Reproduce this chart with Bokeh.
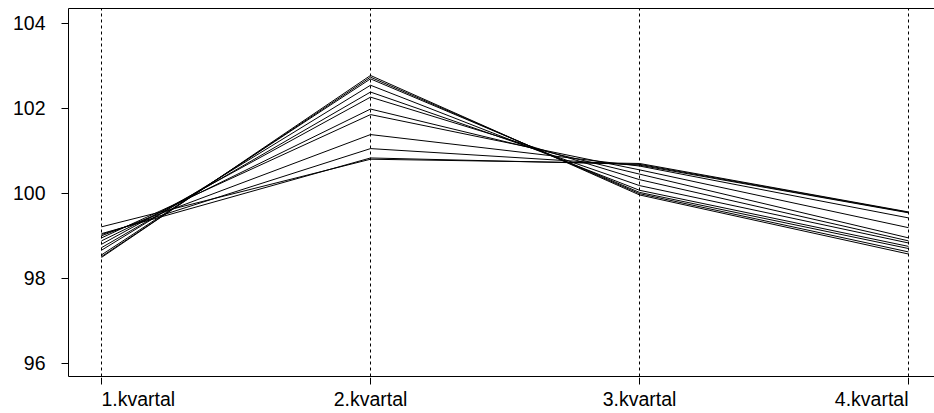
from bokeh.plotting import figure
from bokeh.models import FixedTicker, LinearAxis, ColumnDataSource, Range1d
from bokeh.layouts import column
from bokeh.core.properties import value
from bokeh.embed import file_html
from bokeh.resources import INLINE

quarters = ["1.kvartal", "2.kvartal", "3.kvartal", "4.kvartal"]
y_ticks = [96, 98, 100, 102, 104]

# seasonal index per series (12 series), one list per quarter
q1_values = [99.21, 99.05, 99.03, 99.00, 98.95, 98.88, 98.80, 98.72, 98.66, 98.55, 98.51, 98.49]
q2_values = [100.80, 100.83, 101.05, 101.38, 101.85, 101.98, 102.26, 102.38, 102.54, 102.69, 102.73, 102.77]
q3_values = [100.70, 100.68, 100.66, 100.64, 100.55, 100.45, 100.32, 100.18, 100.07, 100.02, 99.99, 99.96]
q4_values = [99.56, 99.55, 99.54, 99.42, 99.19, 98.95, 98.88, 98.83, 98.75, 98.70, 98.62, 98.57]

FONT = "Liberation Sans"
FS = "19.5px"
xs = list(range(1, len(quarters) + 1))


def bare_axis():
    a = LinearAxis(ticker=FixedTicker(ticks=[]))
    a.major_tick_out = 0
    a.major_tick_in = 0
    a.minor_tick_out = 0
    a.minor_tick_in = 0
    a.major_label_standoff = 0
    a.axis_line_color = "black"
    return a


y_lo, y_hi = 95.69, 104.345
p = figure(width=934, height=377, x_range=Range1d(0.8773, 4.0966), y_range=Range1d(y_lo, y_hi),
           output_backend="svg", toolbar_location=None,
           min_border_left=68, min_border_right=0, min_border_top=8, min_border_bottom=1,
           x_axis_location=None, y_axis_location=None)
p.outline_line_color = None
p.background_fill_color = "white"
p.border_fill_color = "white"

for i in range(len(q1_values)):
    ys = [q1_values[i], q2_values[i], q3_values[i], q4_values[i]]
    p.line(xs, ys, line_color="black", line_width=1)

# left axis
ya = LinearAxis(ticker=FixedTicker(ticks=y_ticks), bounds=(y_lo, y_hi))
ya.major_tick_out = 7
ya.major_tick_in = 0
ya.minor_tick_out = 0
ya.minor_tick_in = 0
ya.major_label_standoff = 16
ya.major_label_text_font = FONT
ya.major_label_text_font_size = FS
ya.major_label_text_color = "black"
ya.axis_line_color = "black"
ya.axis_line_width = 1
ya.major_tick_line_color = "black"
p.add_layout(ya, "left")

p.add_layout(bare_axis(), "below")
p.add_layout(bare_axis(), "above")

p.xgrid.ticker = FixedTicker(ticks=xs)
p.xgrid.grid_line_color = "black"
p.xgrid.grid_line_dash = "3 3"
p.xgrid.grid_line_width = 1
p.ygrid.visible = False

# strip below the frame: tick marks and category labels
strip_h = 36
p2 = figure(width=934, height=strip_h, x_range=p.x_range, y_range=Range1d(0, strip_h),
            output_backend="svg", toolbar_location=None,
            min_border_left=68, min_border_right=0, min_border_top=0, min_border_bottom=0,
            x_axis_location=None, y_axis_location=None)
p2.outline_line_color = None
p2.grid.visible = False
p2.background_fill_color = "white"
p2.border_fill_color = "white"

tick_len = 7
label_gap = 10
aligns = ["left"] + ["center"] * (len(quarters) - 2) + ["right"]
src = ColumnDataSource(dict(x=xs, y0=[strip_h] * len(xs), y1=[strip_h - tick_len] * len(xs),
                            ly=[strip_h - label_gap] * len(xs), text=quarters, align=aligns))
p2.segment(x0="x", y0="y0", x1="x", y1="y1", source=src, line_color="black", line_width=1)
p2.text(x="x", y="ly", text="text", source=src, text_align="align", text_baseline="top",
        text_font=value(FONT), text_font_size=value(FS), text_color="black")

layout = column(p, p2, spacing=0)
open("out.html", "w").write(file_html(layout, INLINE))
